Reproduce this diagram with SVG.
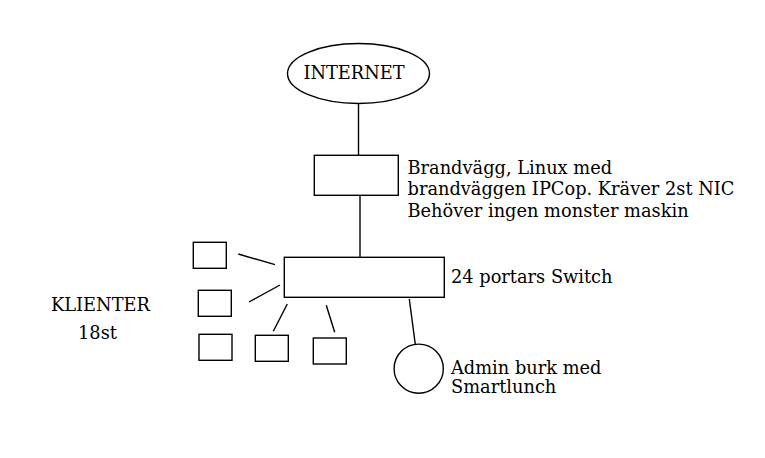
<svg xmlns="http://www.w3.org/2000/svg" width="765" height="458" viewBox="0 0 765 458">
<style>
.s{fill:#fff;stroke:#000;stroke-width:1.4}
.c line{stroke:#000;stroke-width:1.4}
text{font-family:"DejaVu Serif","Liberation Serif",serif;font-size:17.8px;fill:#000}
</style>
<rect width="765" height="458" fill="#fff"/>
<g class="c" id="connectors">
<line x1="358.5" y1="103" x2="358.5" y2="155"/>
<line x1="360" y1="195" x2="360" y2="257"/>
<line x1="238.3" y1="254" x2="275" y2="264.7"/>
<line x1="249" y1="302" x2="280" y2="285"/>
<line x1="287.3" y1="304" x2="273.3" y2="331.3"/>
<line x1="326.3" y1="305.3" x2="334.7" y2="332.3"/>
<line x1="409.3" y1="299" x2="415.3" y2="344.5"/>
</g>
<g id="internet"><ellipse class="s" cx="358.5" cy="73.5" rx="71" ry="30"/><text x="354" y="78.5" text-anchor="middle">INTERNET</text></g>
<g id="firewall"><rect class="s" x="314.3" y="155.3" width="84" height="40"/>
<text x="407.5" y="173.5">Brandvägg, Linux med</text>
<text x="407.5" y="195">brandväggen IPCop. Kräver 2st NIC</text>
<text x="407.5" y="216.5">Behöver ingen monster maskin</text></g>
<g id="switch"><rect class="s" x="284.3" y="257.3" width="160" height="40"/><text x="451" y="282.5">24 portars Switch</text></g>
<g id="client1"><rect class="s" x="193.3" y="242.3" width="33" height="26"/></g>
<g id="client2"><rect class="s" x="198.3" y="290.3" width="33" height="26"/></g>
<g id="client3"><rect class="s" x="199" y="334.3" width="33" height="26"/></g>
<g id="client4"><rect class="s" x="255.3" y="335.3" width="33" height="26"/></g>
<g id="client5"><rect class="s" x="313.3" y="338" width="33" height="26"/></g>
<g id="klienter"><text x="51" y="311">KLIENTER</text><text x="78" y="338.5">18st</text></g>
<g id="admin"><circle class="s" cx="418.7" cy="368.7" r="24.6"/>
<text x="451" y="373.5">Admin burk med</text><text x="451" y="393">Smartlunch</text></g>
</svg>
